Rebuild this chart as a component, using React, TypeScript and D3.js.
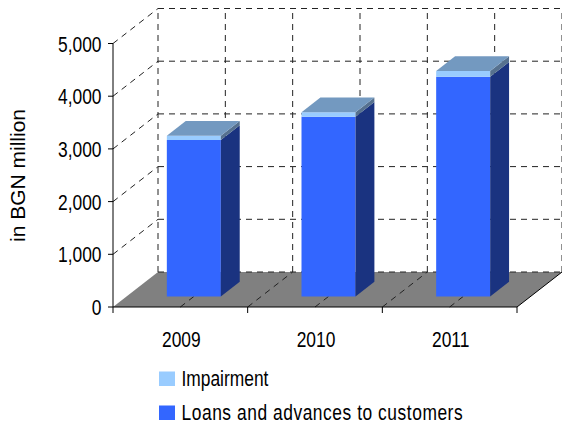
import React from "react";
import * as d3 from "d3";

const categories = ["2009", "2010", "2011"];
const loans = [2970, 3410, 4170];
const impairment = [80, 85, 110];
const yTicks = [0, 1000, 2000, 3000, 4000, 5000];
const seriesNames = ["Impairment", "Loans and advances to customers"];

const W = 562, H = 426;
const X0 = 113, X1 = 517;
const Y0 = 307, Y1 = 43.5;
const DX = 45, DY = 35;
const D0 = 0.3, D1 = 0.72;
const BAR_W = 54;
const FONT = "'Liberation Sans', Arial, sans-serif";
const SX = 0.79;
const FS = 22;

const C_LOAN = "#3366FF", C_LOAN_SIDE = "#1A3380";
const C_IMP = "#99CCFF", C_IMP_SIDE = "#56718F";
const C_TOP = "#7399C0";

export default function App() {
  const x = d3.scaleBand().domain(categories).range([X0, X1]).padding(0);
  const y = d3.scaleLinear().domain([0, 5000]).range([Y0, Y1]);
  const P = (px: number, py: number, d: number) => [px + DX * d, py - DY * d];
  const poly = (pts: number[][]) => pts.map((p) => p.join(",")).join(" ");
  const half = x.bandwidth() / 2;
  const halfSteps = d3.range(0, 7).map((k) => X0 + k * half);
  const dash = "6,5";
  const gridStroke = "#222";

  const bars = categories.map((c, i) => {
    const cx = (x(c) as number) + half;
    const l = cx - BAR_W / 2, r = cx + BAR_W / 2;
    const segs = [
      { v0: 0, v1: loans[i], front: C_LOAN, side: C_LOAN_SIDE },
      { v0: loans[i], v1: loans[i] + impairment[i], front: C_IMP, side: C_IMP_SIDE },
    ];
    const total = loans[i] + impairment[i];
    return (
      <g key={c}>
        {segs.map((s, j) => {
          const yb = y(s.v0), yt = y(s.v1);
          return (
            <g key={j}>
              <polygon points={poly([P(l, yb, D0), P(r, yb, D0), P(r, yt, D0), P(l, yt, D0)])} fill={s.front} />
              <polygon points={poly([P(r, yb, D0), P(r, yb, D1), P(r, yt, D1), P(r, yt, D0)])} fill={s.side} />
            </g>
          );
        })}
        <polygon points={poly([P(l, y(total), D0), P(r, y(total), D0), P(r, y(total), D1), P(l, y(total), D1)])} fill={C_TOP} />
      </g>
    );
  });

  return (
    <svg width={W} height={H} style={{ position: "absolute", left: 0, top: 0 }}>
      <rect width={W} height={H} fill="#fff" />
      {/* floor */}
      <polygon points={poly([P(X0, Y0, 0), P(X1, Y0, 0), P(X1, Y0, 1), P(X0, Y0, 1)])} fill="#808080" />
      {/* floor grid diagonals */}
      {halfSteps.slice(1, 6).map((hx, k) => {
        const a = P(hx, Y0, 0), b = P(hx, Y0, 1);
        return <line key={"fd" + k} x1={a[0]} y1={a[1]} x2={b[0]} y2={b[1]} stroke={gridStroke} strokeDasharray={dash} />;
      })}
      {/* back wall verticals */}
      {halfSteps.map((hx, k) => {
        const a = P(hx, Y0, 1), b = P(hx, Y1, 1);
        return <line key={"bv" + k} x1={a[0]} y1={a[1]} x2={b[0]} y2={b[1]} stroke={gridStroke} strokeDasharray={dash} />;
      })}
      {/* back wall horizontals */}
      {yTicks.map((v) => {
        const a = P(X0, y(v), 1), b = P(X1, y(v), 1);
        return <line key={"bh" + v} x1={a[0]} y1={a[1]} x2={b[0]} y2={b[1]} stroke={gridStroke} strokeDasharray={dash} />;
      })}
      {/* left wall diagonals */}
      {yTicks.filter((v) => v > 0).map((v) => {
        const a = P(X0, y(v), 0), b = P(X0, y(v), 1);
        return <line key={"lw" + v} x1={a[0]} y1={a[1]} x2={b[0]} y2={b[1]} stroke={gridStroke} strokeDasharray={dash} />;
      })}
      {bars}
      {/* axes */}
      <line x1={X0} y1={Y1} x2={X0} y2={Y0} stroke="#000" />
      {yTicks.map((v) => (
        <g key={"yt" + v}>
          <line x1={X0 - 5} y1={y(v)} x2={X0} y2={y(v)} stroke="#000" />
          <text transform={`translate(${X0 - 11.5},${y(v) + 8}) scale(${SX},1)`} textAnchor="end" fontSize={FS} fontFamily={FONT} fill="#000">
            {d3.format(",")(v)}
          </text>
        </g>
      ))}
      <line x1={X0} y1={Y0} x2={X1} y2={Y0} stroke="#000" />
      {[0, 1, 2, 3].map((k) => (
        <line key={"xt" + k} x1={X0 + k * x.bandwidth()} y1={Y0} x2={X0 + k * x.bandwidth()} y2={Y0 + 6} stroke="#000" />
      ))}
      <line x1={X1} y1={Y0} x2={X1 + DX} y2={Y0 - DY} stroke="#000" />
      {categories.map((c) => (
        <text key={"cl" + c} transform={`translate(${(x(c) as number) + half + 1},${347}) scale(${SX},1)`} textAnchor="middle" fontSize={FS} fontFamily={FONT} fill="#000">
          {c}
        </text>
      ))}
      {/* y title */}
      <text transform={`translate(24.5,175.5) rotate(-90)`} textAnchor="middle" fontSize={21} fontFamily={FONT} fill="#000">
        in BGN million
      </text>
      {/* legend */}
      {[C_IMP, C_LOAN].map((col, i) => (
        <g key={"lg" + i}>
          <rect x={159} y={371.5 + i * 34} width={16} height={14.5} fill={col} />
          <text transform={`translate(181.5,${386 + i * 34}) scale(${SX},1)`} fontSize={FS} fontFamily={FONT} fill="#000" letterSpacing={i === 1 ? 0.7 : 0}>
            {seriesNames[i]}
          </text>
        </g>
      ))}
    </svg>
  );
}
